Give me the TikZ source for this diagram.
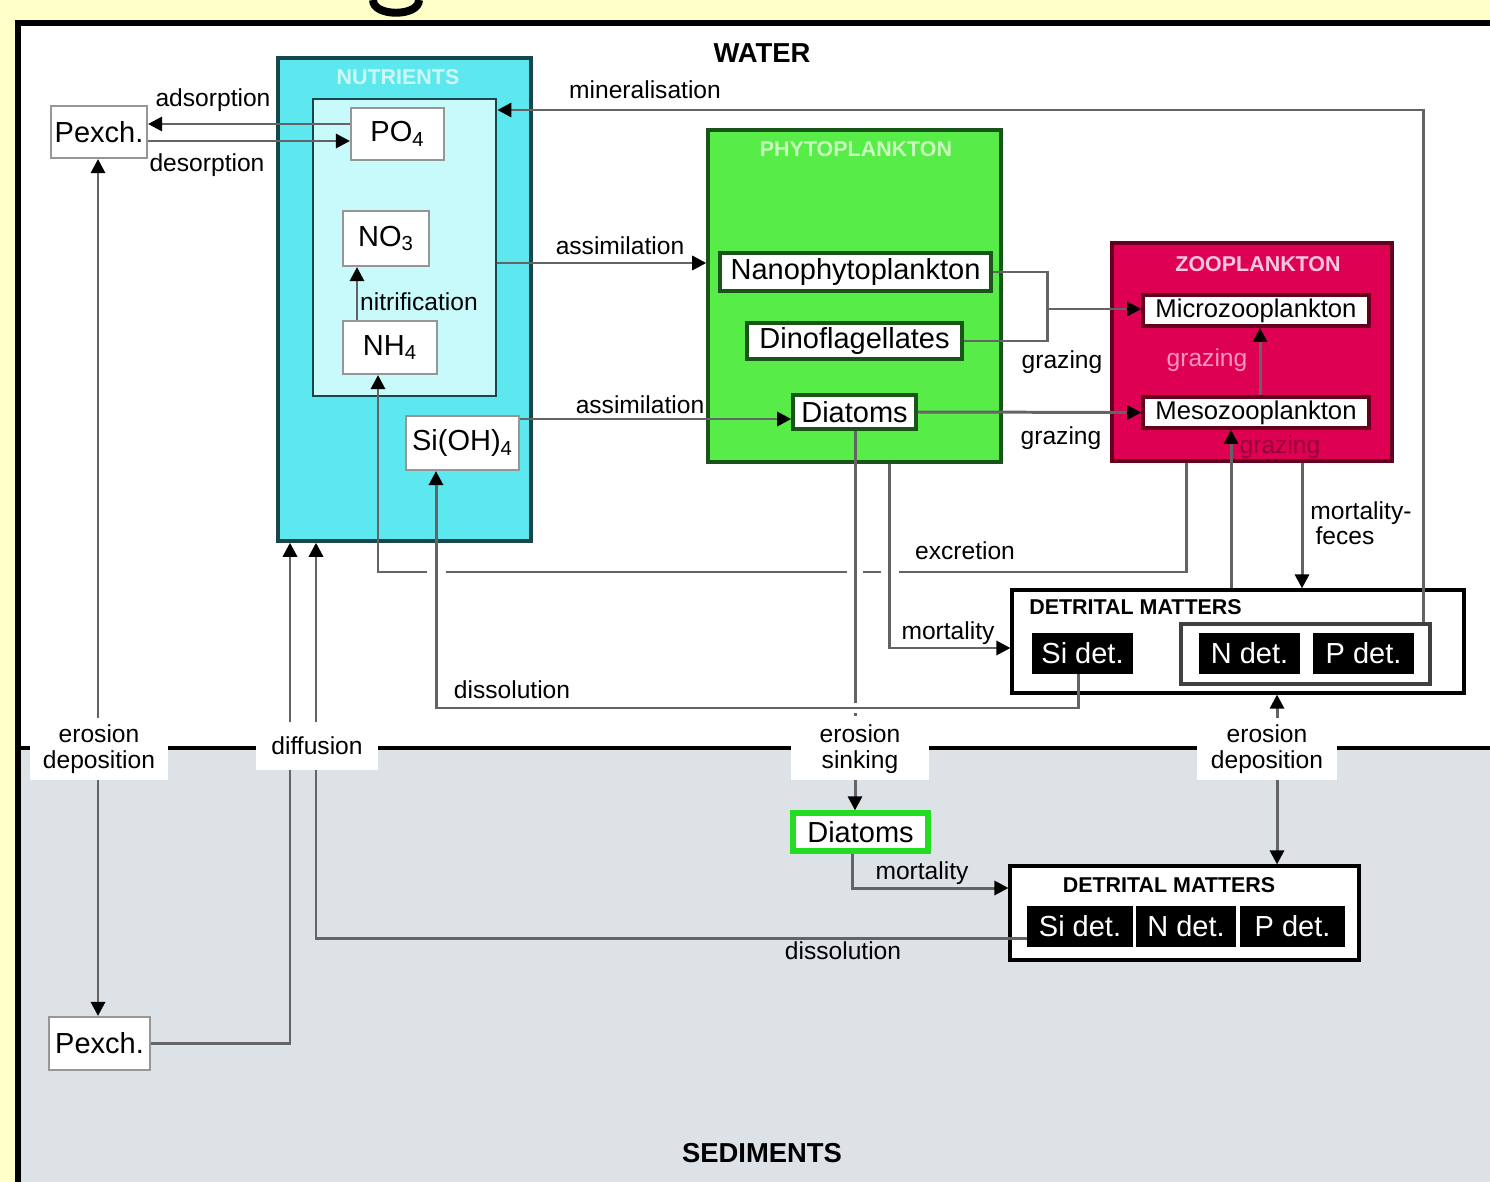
\documentclass[tikz,border=0pt]{standalone}
\usepackage{fontspec}
\setmainfont{Liberation Sans}
\usetikzlibrary{arrows.meta}
\definecolor{bgyel}{RGB}{255,255,200}
\definecolor{sedgray}{RGB}{221,226,231}
\definecolor{cyanout}{RGB}{92,232,238}
\definecolor{cyanin}{RGB}{200,250,252}
\definecolor{tealdark}{RGB}{25,70,72}
\definecolor{phgreen}{RGB}{88,236,72}
\definecolor{greendark}{RGB}{25,85,25}
\definecolor{zoored}{RGB}{222,0,82}
\definecolor{reddark}{RGB}{100,0,30}
\definecolor{linegray}{RGB}{100,100,100}
\definecolor{boxgray}{RGB}{150,150,150}
\definecolor{brightgreen}{RGB}{34,221,34}
\definecolor{hdrcyan}{RGB}{205,248,248}
\definecolor{hdrgreen}{RGB}{200,250,190}
\definecolor{hdrpink}{RGB}{250,200,222}
\definecolor{pinklbl}{RGB}{250,150,190}
\definecolor{darkredlbl}{RGB}{150,0,55}
\tikzset{
  wbox/.style={draw=boxgray, line width=1.2pt, fill=white, inner sep=0pt, font=\fontsize{16.5}{18}\selectfont},
  gbox/.style={draw=greendark, line width=2pt, fill=white, inner sep=0pt, font=\fontsize{16.5}{18}\selectfont},
  rbox/.style={draw=reddark, line width=2pt, fill=white, inner sep=0pt, font=\fontsize{14.6}{16}\selectfont},
  container/.style={line width=2pt, inner sep=0pt},
  blk/.style={fill=black, text=white, inner sep=0pt, minimum height=0.82cm, font=\fontsize{16.5}{18}\selectfont},
  edgelbl/.style={font=\fontsize{14}{14.5}\selectfont, inner sep=0pt, align=center},
  hdr/.style={font=\bfseries\fontsize{12.2}{13}\selectfont, inner sep=0pt},
  title/.style={font=\bfseries\fontsize{15.6}{17}\selectfont, inner sep=0pt},
  ifacebox/.style={fill=white, inner sep=0pt, align=center, font=\fontsize{14}{14.5}\selectfont},
  conn/.style={draw=linegray, line width=1.7pt},
  arr/.style={conn, -{Triangle[length=8pt,width=8pt,color=black]}}
}
\begin{document}
\begin{tikzpicture}[x=0.02cm, y=-0.02cm]
\useasboundingbox (0,0) rectangle (1490,1182);
% background
\fill[bgyel] (0,0) rectangle (1490,1182);
\fill[white] (18,23) rectangle (1490,748);
\fill[sedgray] (18,748) rectangle (1490,1182);
\draw[line width=3pt] (18,1182) -- (18,23) -- (1490,23);
\draw[line width=4.5pt] (373,0) .. controls (373,17) and (419,17) .. (419,0);
\draw[line width=2.6pt] (20,748) -- (1490,748);

% titles
\node[title] (water) at (762,53) {WATER};
\node[title] (sed) at (762,1153) {SEDIMENTS};

% nutrients
\node[container, draw=tealdark, fill=cyanout, minimum width=5.06cm, minimum height=9.66cm] (nutr) at (404.5,299.5) {};
\node[hdr, text=hdrcyan] (nutrhdr) at (398,77) {NUTRIENTS};
\node[container, line width=1.6pt, draw=tealdark, fill=cyanin, minimum width=3.66cm, minimum height=5.94cm] (inner) at (404.5,247.5) {};
\node[wbox, minimum width=1.86cm, minimum height=1.04cm] (po4) at (397.5,134) {PO\textsubscript{4}};
\node[wbox, minimum width=1.72cm, minimum height=1.10cm] (no3) at (386,238.5) {NO\textsubscript{3}};
\node[wbox, minimum width=1.88cm, minimum height=1.06cm] (nh4) at (390,347.5) {NH\textsubscript{4}};
\node[wbox, minimum width=2.26cm, minimum height=1.08cm] (si) at (462.5,443) {Si(OH)\textsubscript{4}};

% Pexch
\node[wbox, minimum width=1.92cm, minimum height=1.04cm] (pex1) at (99,132) {Pexch.};
\node[wbox, minimum width=2.02cm, minimum height=1.06cm] (pex2) at (99.5,1043.5) {Pexch.};

% phytoplankton
\node[container, draw=greendark, fill=phgreen, minimum width=5.86cm, minimum height=6.64cm] (phyto) at (854.5,296) {};
\node[hdr, text=hdrgreen] (phytohdr) at (856,149) {PHYTOPLANKTON};
\node[gbox, minimum width=5.42cm, minimum height=0.76cm] (nano) at (855.5,272) {Nanophytoplankton};
\node[gbox, minimum width=4.30cm, minimum height=0.72cm] (dino) at (854.5,341) {Dinoflagellates};
\node[gbox, minimum width=2.46cm, minimum height=0.68cm] (diat) at (854.5,412) {Diatoms};

% zooplankton
\node[container, draw=reddark, fill=zoored, minimum width=5.60cm, minimum height=4.36cm] (zoo) at (1252,352) {};
\node[hdr, text=hdrpink] (zoohdr) at (1258,264) {ZOOPLANKTON};
\node[rbox, minimum width=4.52cm, minimum height=0.62cm] (micro) at (1256,310.5) {Microzooplankton};
\node[rbox, minimum width=4.52cm, minimum height=0.62cm] (meso) at (1256,412.5) {Mesozooplankton};

% detrital matters (water)
\node[draw=black, line width=1.8pt, fill=white, inner sep=0pt, minimum width=9.04cm, minimum height=2.06cm] (detw) at (1238,641.5) {};
\node[hdr, anchor=west] (detwhdr) at (1029,607) {DETRITAL MATTERS};
\node[blk, minimum width=2.02cm] (sidw) at (1082.5,653.5) {Si det.};
\node[draw=black!75, line width=1.8pt, inner sep=0pt, minimum width=4.98cm, minimum height=1.20cm] (npbox) at (1305.5,654) {};
\node[blk, minimum width=2.02cm] (ndw) at (1249.5,653.5) {N det.};
\node[blk, minimum width=2.02cm] (pdw) at (1363.5,653.5) {P det.};

% sediments
\node[draw=brightgreen, line width=3pt, fill=white, inner sep=0pt, minimum width=2.70cm, minimum height=0.76cm, font=\fontsize{16.5}{18}\selectfont] (diats) at (860.5,832) {Diatoms};
\node[draw=black, line width=1.8pt, fill=white, inner sep=0pt, minimum width=6.98cm, minimum height=1.88cm] (dets) at (1184.5,913) {};
\node[hdr] (detshdr) at (1169,885) {DETRITAL MATTERS};
\node[blk, minimum width=2.12cm] (sids) at (1080,926.5) {Si det.};
\node[blk, minimum width=2.00cm] (nds) at (1186,926.5) {N det.};
\node[blk, minimum width=2.10cm] (pds) at (1292.5,926.5) {P det.};

% interface labels
\node[ifacebox, minimum width=2.76cm, minimum height=1.24cm] (ed1) at (99,749) {erosion\\deposition};
\node[ifacebox, minimum width=2.44cm, minimum height=0.96cm] (diff) at (317,746) {diffusion};
\node[ifacebox, minimum width=2.76cm, minimum height=1.24cm] (es) at (860,749) {erosion\\sinking};
\node[ifacebox, minimum width=2.80cm, minimum height=1.24cm] (ed2) at (1267,749) {erosion\\deposition};

% connectors
\draw[arr] (po4.west |- 0,124) -- (pex1.east |- 0,124);
\draw[arr] (pex1.east |- 0,141) -- (po4.west |- 0,141);
\draw[arr] (1423,0 |- npbox.north) -- (1423,110) -- (inner.east |- 0,110);
\draw[arr] (357,0 |- nh4.north) -- (357,0 |- no3.south);
\draw[arr] (inner.east |- 0,263) -- (phyto.west |- 0,263);
\draw[arr] (si.east |- 0,419) -- (diat.west |- 0,419);
\draw[conn] (nano.east) -- (1047,272) -- (1047,341) -- (dino.east);
\draw[arr] (1047,309) -- (micro.west |- 0,309);
\draw[arr] (diat.east) -- (meso.west);
\draw[arr] (1260,0 |- meso.north) -- (1260,0 |- micro.south);
\draw[arr] (1231,0 |- detw.north) -- (1231,0 |- meso.south);
% excretion with gaps at crossings
\draw[conn] (1186,0 |- zoo.south) -- (1186,572) -- (899,572);
\draw[conn] (881,572) -- (863,572);
\draw[conn] (847,572) -- (446,572);
\draw[arr] (427,572) -- (378,572) -- (378,0 |- nh4.south);
% mortality phyto
\draw[arr] (889,0 |- phyto.south) -- (889,648) -- (detw.west |- 0,648);
% mortality-feces
\draw[arr] (1302,0 |- zoo.south) -- (1302,0 |- detw.north);
% dissolution water
\draw[arr] (1078,0 |- sidw.south) -- (1078,708) -- (436,708) -- (436,0 |- si.south);
% sinking
\draw[conn] (855,0 |- diat.south) -- (855,700);
\draw[conn, dotted] (855,700) -- (855,0 |- es.north);
\draw[arr] (855,0 |- es.south) -- (855,0 |- diats.north);
% mortality sediment
\draw[arr] (852,0 |- diats.south) -- (852,888) -- (dets.west |- 0,888);
% dissolution sediment / diffusion
\draw[conn] (sids.west |- 0,938) -- (316,938) -- (316,0 |- diff.south);
\draw[arr] (316,0 |- diff.north) -- (316,0 |- nutr.south);
\draw[conn] (pex2.east) -- (290,0 |- pex2.east) -- (290,0 |- diff.south);
\draw[arr] (290,0 |- diff.north) -- (290,0 |- nutr.south);
% erosion deposition
\draw[arr] (98,0 |- ed1.north) -- (98,0 |- pex1.south);
\draw[arr] (98,0 |- ed1.south) -- (98,0 |- pex2.north);
\draw[arr] (1277,0 |- ed2.north) -- (1277,0 |- detw.south);
\draw[arr] (1277,0 |- ed2.south) -- (1277,0 |- dets.north);

% edge labels
\node[edgelbl] (l-ads) at (213,100) {adsorption};
\node[edgelbl] (l-des) at (207,165) {desorption};
\node[edgelbl] (l-min) at (645,90) {mineralisation};
\node[edgelbl] (l-nit) at (419,302) {nitrification};
\node[edgelbl] (l-as1) at (620,246) {assimilation};
\node[edgelbl] (l-as2) at (640,405) {assimilation};
\node[edgelbl] (l-gr1) at (1062,362) {grazing};
\node[edgelbl] (l-gr2) at (1061,438) {grazing};
\node[edgelbl, text=pinklbl] (l-gr3) at (1207,360) {grazing};
\node[edgelbl, text=darkredlbl] (l-gr4) at (1280,447) {grazing};
\node[edgelbl] (l-exc) at (965,551) {excretion};
\node[edgelbl] (l-mor1) at (948,633) {mortality};
\node[edgelbl, align=left, anchor=west] (l-mf) at (1310,523) {mortality-\\\hspace*{3pt}feces};
\node[edgelbl] (l-dis1) at (512,690) {dissolution};
\node[edgelbl] (l-mor2) at (922,873) {mortality};
\node[edgelbl] (l-dis2) at (843,951) {dissolution};
\end{tikzpicture}
\end{document}
